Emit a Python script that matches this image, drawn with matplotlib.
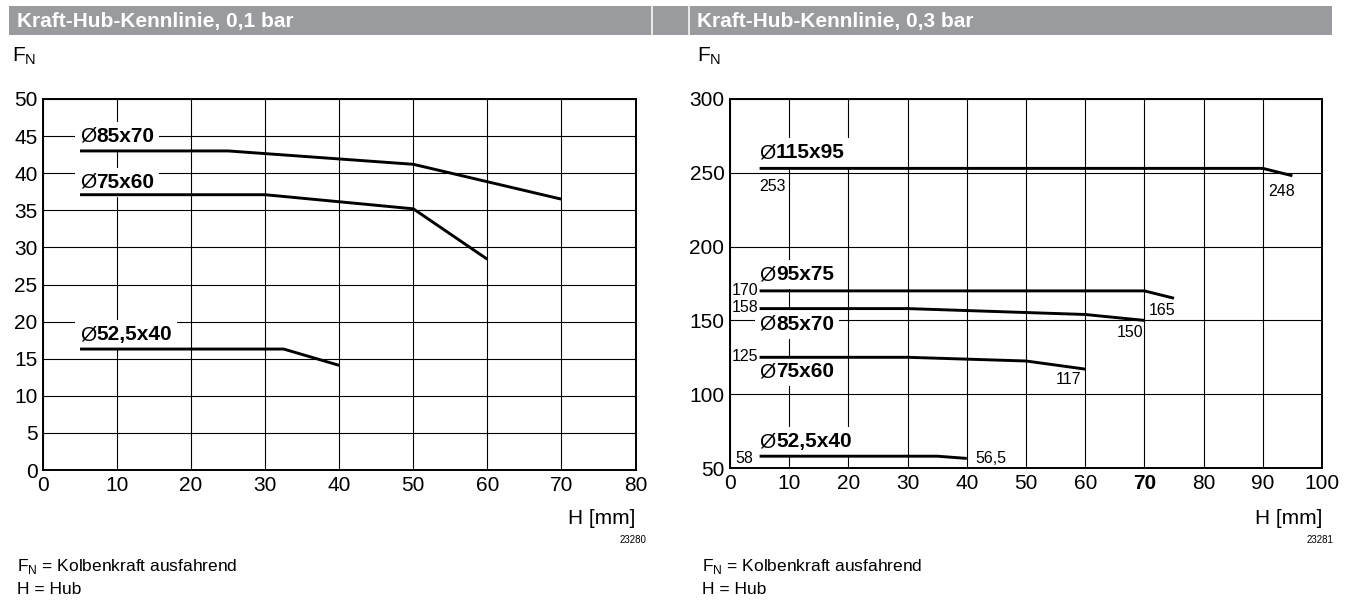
import matplotlib
matplotlib.use("Agg")
import matplotlib.pyplot as plt
from matplotlib.patches import Rectangle
from matplotlib.transforms import Bbox

plt.rcParams['font.family'] = ['Liberation Sans', 'DejaVu Sans']

W, H = 1349, 603

# 0,1 bar
hub_85x70_a = [5, 25, 50, 70]
kraft_85x70_a = [43, 43, 41.2, 36.5]
hub_75x60_a = [5, 30, 50, 60]
kraft_75x60_a = [37.1, 37.1, 35.2, 28.4]
hub_52x40_a = [5, 32.5, 40]
kraft_52x40_a = [16.3, 16.3, 14.1]

# 0,3 bar
hub_115x95 = [5, 90, 95]
kraft_115x95 = [253, 253, 248]
hub_95x75 = [5, 70, 75]
kraft_95x75 = [170, 170, 165]
hub_85x70_b = [5, 30, 60, 70]
kraft_85x70_b = [158, 158, 154, 150]
hub_75x60_b = [5, 30, 50, 60]
kraft_75x60_b = [125, 125, 122.5, 117]
hub_52x40_b = [5, 35, 40]
kraft_52x40_b = [58, 58, 56.5]

titles = ["Kraft-Hub-Kennlinie, 0,1 bar", "Kraft-Hub-Kennlinie, 0,3 bar"]
bildnr = ["23280", "23281"]


def fx(px):
    return px / W


def fy(py):
    return 1 - py / H


def make_axes(fig, l, r, t, b, xmax, ymin, ymax, xstep, ystep):
    ax = fig.add_axes([fx(l), fy(b), fx(r) - fx(l), fy(t) - fy(b)])
    ax.set_xlim(0, xmax)
    ax.set_ylim(ymin, ymax)
    ax.set_xticks(range(0, xmax + 1, xstep))
    ax.set_yticks(range(ymin, ymax + 1, ystep))
    ax.grid(True, color='black', lw=0.8, zorder=0)
    ax.set_axisbelow(True)
    ax.tick_params(length=0, labelsize=15, pad=4)
    for s in ax.spines.values():
        s.set_linewidth(1.4)
    return ax


labels = []


def label(ax, x, y, txt):
    # thin diameter sign + bold size, white box added after layout
    t1 = ax.text(x, y, "Ø", fontsize=15, ha='left', va='center', zorder=3.5)
    t2 = ax.annotate(txt, (x, y), xytext=(11.8, 0), textcoords='offset points',
                     fontsize=15, fontweight='bold', ha='left', va='center', zorder=3.5)
    labels.append((ax, t1, t2))


def zahl(ax, x, y, txt, ha='left'):
    ax.text(x, y, txt, fontsize=11.5, ha=ha, va='center', zorder=4)


fig = plt.figure(figsize=(W / 100, H / 100), dpi=100)

# title bars
fig.patches.append(Rectangle((fx(9), fy(35)), fx(1332) - fx(9), fy(6) - fy(35),
                             transform=fig.transFigure, facecolor='#9a9b9e', edgecolor='none'))
for sx in [652, 689]:
    fig.patches.append(Rectangle((fx(sx - 1), fy(35)), fx(2), fy(6) - fy(35),
                                 transform=fig.transFigure, facecolor='#e8e8e8', edgecolor='none'))
for x0, t in zip([17, 697], titles):
    fig.text(fx(x0), fy(21), t, color='white', fontsize=15, fontweight='bold', va='center')

# left chart
ax1 = make_axes(fig, 43, 635.5, 99, 470, 80, 0, 50, 10, 5)
for hx, ky in [(hub_85x70_a, kraft_85x70_a), (hub_75x60_a, kraft_75x60_a), (hub_52x40_a, kraft_52x40_a)]:
    ax1.plot(hx, ky, color='black', lw=2.1, zorder=5, solid_capstyle='butt')
label(ax1, 5, 45, "85x70")
label(ax1, 5, 38.8, "75x60")
label(ax1, 5, 18.2, "52,5x40")

# right chart
ax2 = make_axes(fig, 730, 1322, 99, 468, 100, 50, 300, 10, 50)
for hx, ky in [(hub_115x95, kraft_115x95), (hub_95x75, kraft_95x75), (hub_85x70_b, kraft_85x70_b),
               (hub_75x60_b, kraft_75x60_b), (hub_52x40_b, kraft_52x40_b)]:
    ax2.plot(hx, ky, color='black', lw=2.1, zorder=5, solid_capstyle='butt')
for tl in ax2.get_xticklabels():
    if tl.get_text() == '70':
        tl.set_fontweight('bold')
label(ax2, 5, 263.5, "115x95")
label(ax2, 5, 181, "95x75")
label(ax2, 5, 147.5, "85x70")
label(ax2, 5, 115.3, "75x60")
label(ax2, 5, 67.8, "52,5x40")
zahl(ax2, 5, 241, "253")
zahl(ax2, 91, 237, "248")
zahl(ax2, 4.8, 170, "170", ha='right')
zahl(ax2, 70.8, 156.5, "165")
zahl(ax2, 4.8, 158.5, "158", ha='right')
zahl(ax2, 69.8, 141.7, "150", ha='right')
zahl(ax2, 4.8, 125.5, "125", ha='right')
zahl(ax2, 59.3, 110, "117", ha='right')
zahl(ax2, 3.9, 56.5, "58", ha='right')
zahl(ax2, 41.4, 56.3, "56,5")

# axis titles, footnotes
for x0, axr, nr in [(12, 635.5, bildnr[0]), (697, 1322, bildnr[1])]:
    fig.text(fx(x0), fy(56), r'F$_\mathregular{N}$', fontsize=15, va='center')
    fig.text(fx(axr), fy(518), "H [mm]", fontsize=15, ha='right', va='center')
    fig.text(fx(axr + 11), fy(540), nr, fontsize=7, ha='right', va='center')
    fig.text(fx(x0 + 5), fy(567), r'F$_\mathregular{N}$ = Kolbenkraft ausfahrend', fontsize=12.5, va='center')
    fig.text(fx(x0 + 5), fy(589), "H = Hub", fontsize=12.5, va='center')

# white boxes behind the curve labels (hide grid lines)
fig.canvas.draw()
r = fig.canvas.get_renderer()
for ax, t1, t2 in labels:
    bb = Bbox.union([t1.get_window_extent(r), t2.get_window_extent(r)]).expanded(1.0, 1.0)
    (x0, y0), (x1, y1) = ax.transAxes.inverted().transform([[bb.x0 - 5, bb.y0 - 5], [bb.x1 + 5, bb.y1 + 5]])
    ax.add_patch(Rectangle((x0, y0), x1 - x0, y1 - y0, transform=ax.transAxes,
                           facecolor='white', edgecolor='none', zorder=3))

fig.savefig("out.png", dpi=100)
